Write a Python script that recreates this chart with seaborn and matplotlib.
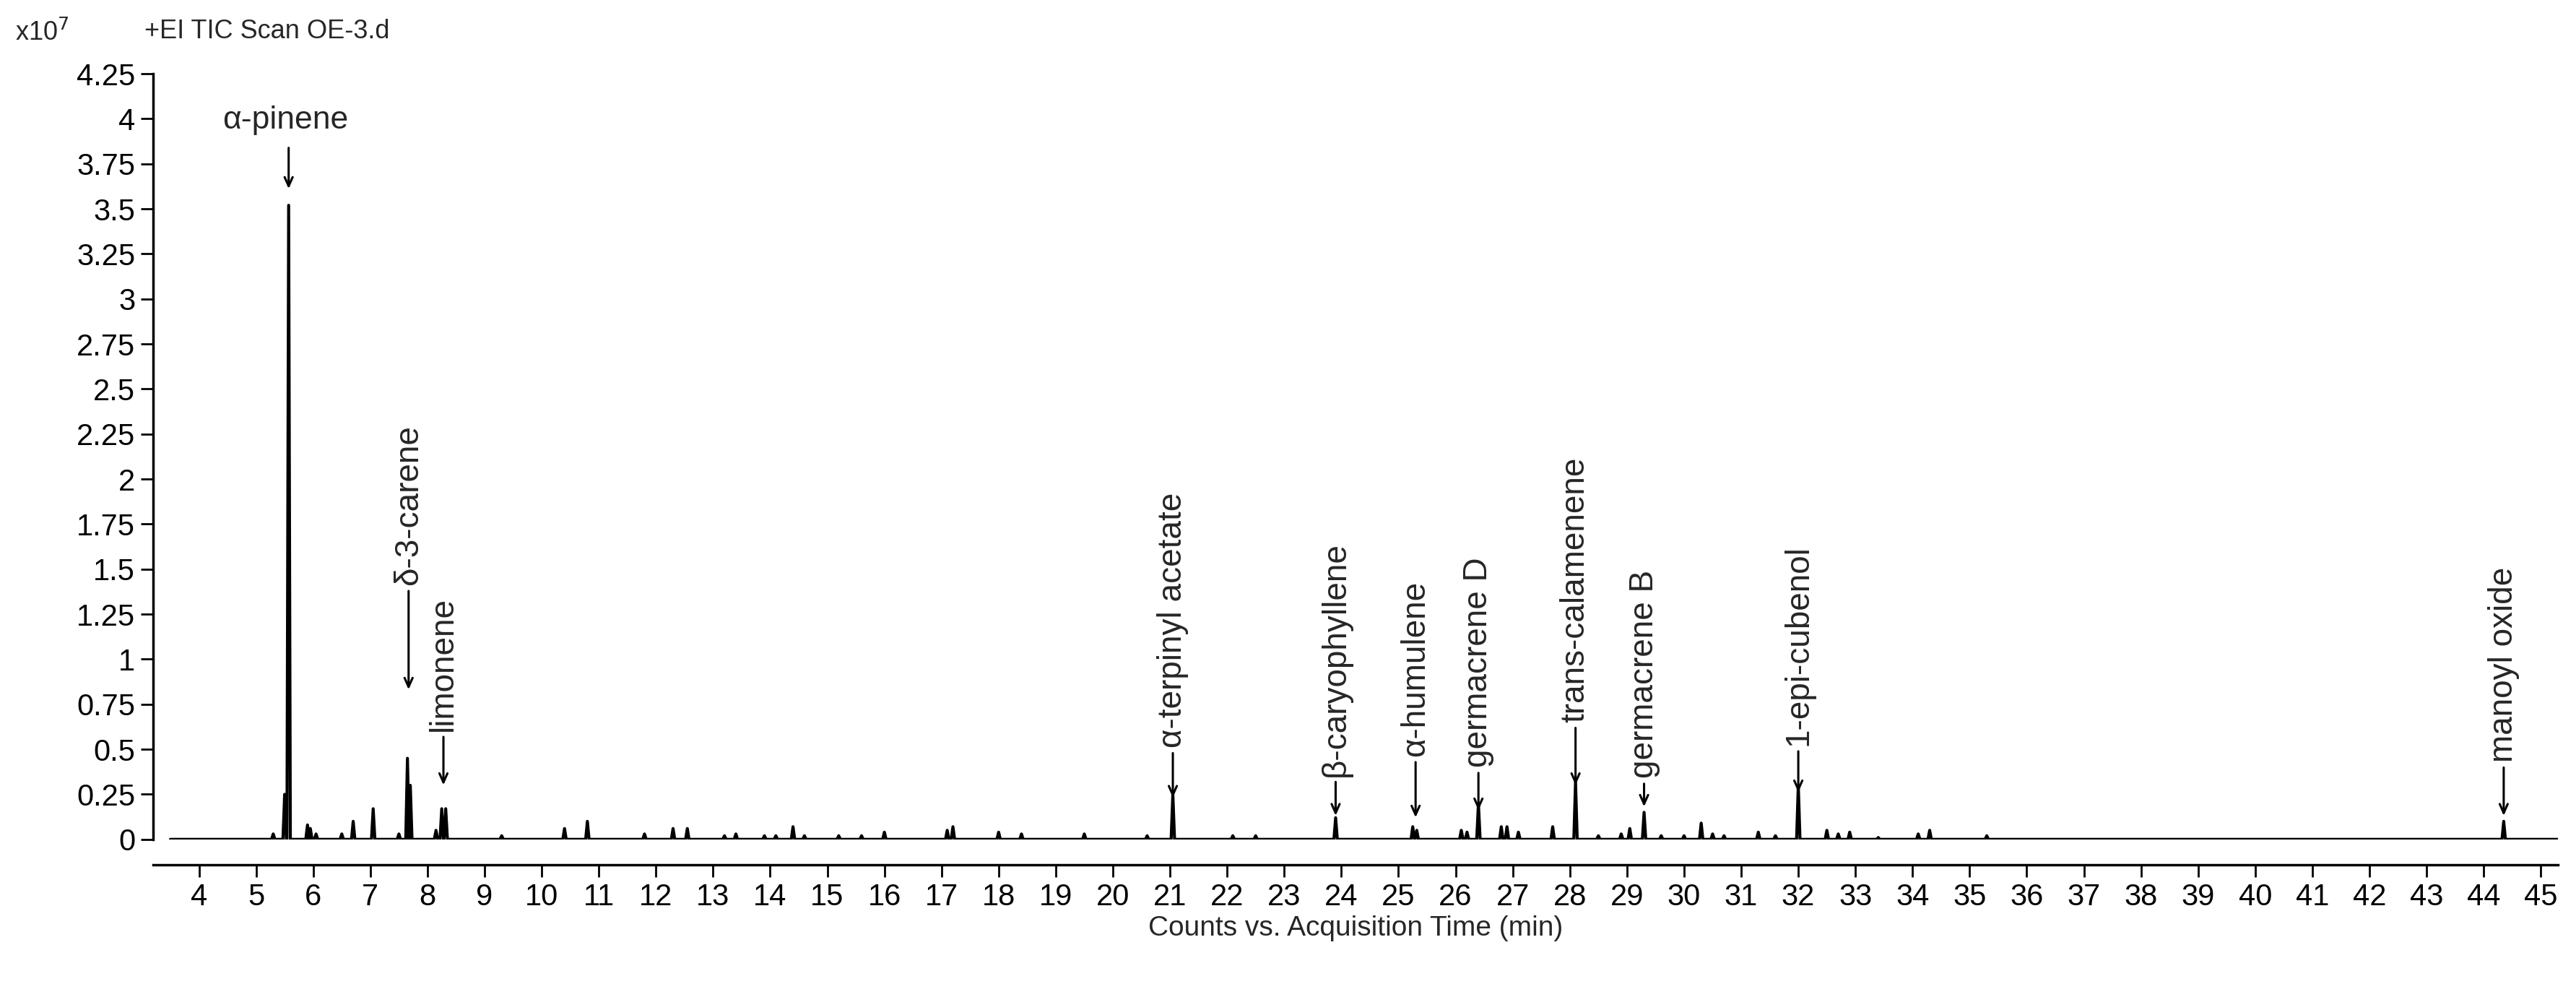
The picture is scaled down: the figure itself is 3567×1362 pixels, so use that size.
import numpy as np
import matplotlib
matplotlib.use("Agg")
import matplotlib.pyplot as plt
import seaborn as sns
import pandas as pd

# Peak list (retention time in min, height in x10^7 counts)
peak_times = [5.3, 5.5, 5.57, 5.9, 5.95, 6.05, 6.5, 6.7, 7.05, 7.5, 7.65, 7.7, 8.15, 8.25, 8.32,
              9.3, 10.4, 10.8, 11.8, 12.3, 12.55, 13.2, 13.4, 13.9, 14.1, 14.4, 14.6, 15.2, 15.6,
              16.0, 17.1, 17.2, 18.0, 18.4, 19.5, 20.6, 21.05, 22.1, 22.5, 23.9, 25.25, 25.32,
              26.1, 26.2, 26.4, 26.8, 26.9, 27.1, 27.7, 28.1, 28.5, 28.9, 29.05, 29.3, 29.6, 30.0,
              30.3, 30.5, 30.7, 31.3, 31.6, 32.0, 32.5, 32.7, 32.9, 33.4, 34.1, 34.3, 35.3, 44.35]
peak_heights = [0.03, 0.25, 3.52, 0.08, 0.06, 0.03, 0.03, 0.1, 0.17, 0.03, 0.45, 0.3, 0.05, 0.17, 0.17,
                0.02, 0.06, 0.1, 0.03, 0.06, 0.06, 0.02, 0.03, 0.02, 0.02, 0.07, 0.02, 0.02, 0.02,
                0.04, 0.05, 0.07, 0.04, 0.03, 0.03, 0.02, 0.25, 0.02, 0.02, 0.12, 0.07, 0.05,
                0.05, 0.04, 0.2, 0.07, 0.07, 0.04, 0.07, 0.32, 0.02, 0.03, 0.06, 0.15, 0.02, 0.02,
                0.09, 0.03, 0.02, 0.04, 0.02, 0.3, 0.05, 0.03, 0.04, 0.01, 0.03, 0.05, 0.02, 0.1]

ann_names = ["α-pinene", "δ-3-carene", "limonene", "α-terpinyl acetate", "β-caryophyllene",
             "α-humulene", "germacrene D", "trans-calamenene", "germacrene B", "1-epi-cubenol",
             "manoyl oxide"]
ann_times = [5.57, 7.67, 8.28, 21.05, 23.9, 25.3, 26.4, 28.1, 29.3, 32.0, 44.35]
ann_tips = [3.6, 0.82, 0.29, 0.22, 0.12, 0.11, 0.15, 0.29, 0.17, 0.25, 0.12]
ann_tops = [3.85, 1.39, 0.58, 0.49, 0.33, 0.44, 0.38, 0.63, 0.32, 0.5, 0.41]

x_ticks = list(range(4, 46))
y_ticks = [i * 0.25 for i in range(18)]

xs, ys = [3.5], [0.0]
for t, h in sorted(zip(peak_times, peak_heights)):
    xs += [t - 0.03, t, t + 0.03]
    ys += [0.0, h, 0.0]
xs.append(45.3); ys.append(0.0)
df = pd.DataFrame({"t": xs, "c": ys})

sns.set_style("white")
plt.rcParams['font.family'] = ['Liberation Sans', 'DejaVu Sans']
fs = 30

fig = plt.figure(figsize=(35.67, 13.62), dpi=100)
ax = fig.add_axes([0.0595, 0.147, 0.9335, 0.778])
sns.lineplot(data=df, x="t", y="c", sort=False, estimator=None, color="black", lw=3, ax=ax)

ax.set_xlim(3.2, 45.3)
ax.set_ylim(0, 4.25)
ax.set_xticks(x_ticks)
ax.set_xticklabels([str(v) for v in x_ticks])
ax.set_yticks(y_ticks)
ax.set_yticklabels([f"{v:g}" for v in y_ticks])
ax.tick_params(axis="both", direction="out", length=12, width=2, color="black", pad=6,
               labelsize=fs, bottom=True, left=True, labelcolor="black")
for s in ["top", "right"]:
    ax.spines[s].set_visible(False)
ax.spines["bottom"].set_position(("outward", 25))
ax.spines["left"].set_bounds(0, 4.25)
for s in ["bottom", "left"]:
    ax.spines[s].set_color("black")
    ax.spines[s].set_linewidth(2.5)
ax.set_xlabel("Counts vs. Acquisition Time (min)", fontsize=fs - 2, labelpad=4)
ax.set_ylabel("")

for name, t, tip, top in zip(ann_names, ann_times, ann_tips, ann_tops):
    ax.annotate("", xy=(t, tip), xytext=(t, top),
                arrowprops=dict(arrowstyle="->,head_length=0.9,head_width=0.4", color="black", lw=2.2))
    if name == "α-pinene":
        ax.text(t - 0.05, top + 0.06, name, ha="center", va="bottom", fontsize=fs + 2)
    else:
        ax.text(t, top + 0.02, name, rotation=90, ha="center", va="bottom", fontsize=fs + 3)

fig.text(0.006, 0.966, "x10$^{7}$", fontsize=fs - 4, ha="left", va="center")
fig.text(0.056, 0.968, "+EI TIC Scan OE-3.d", fontsize=fs - 4, ha="left", va="center")

fig.savefig("out.png", dpi=100)
